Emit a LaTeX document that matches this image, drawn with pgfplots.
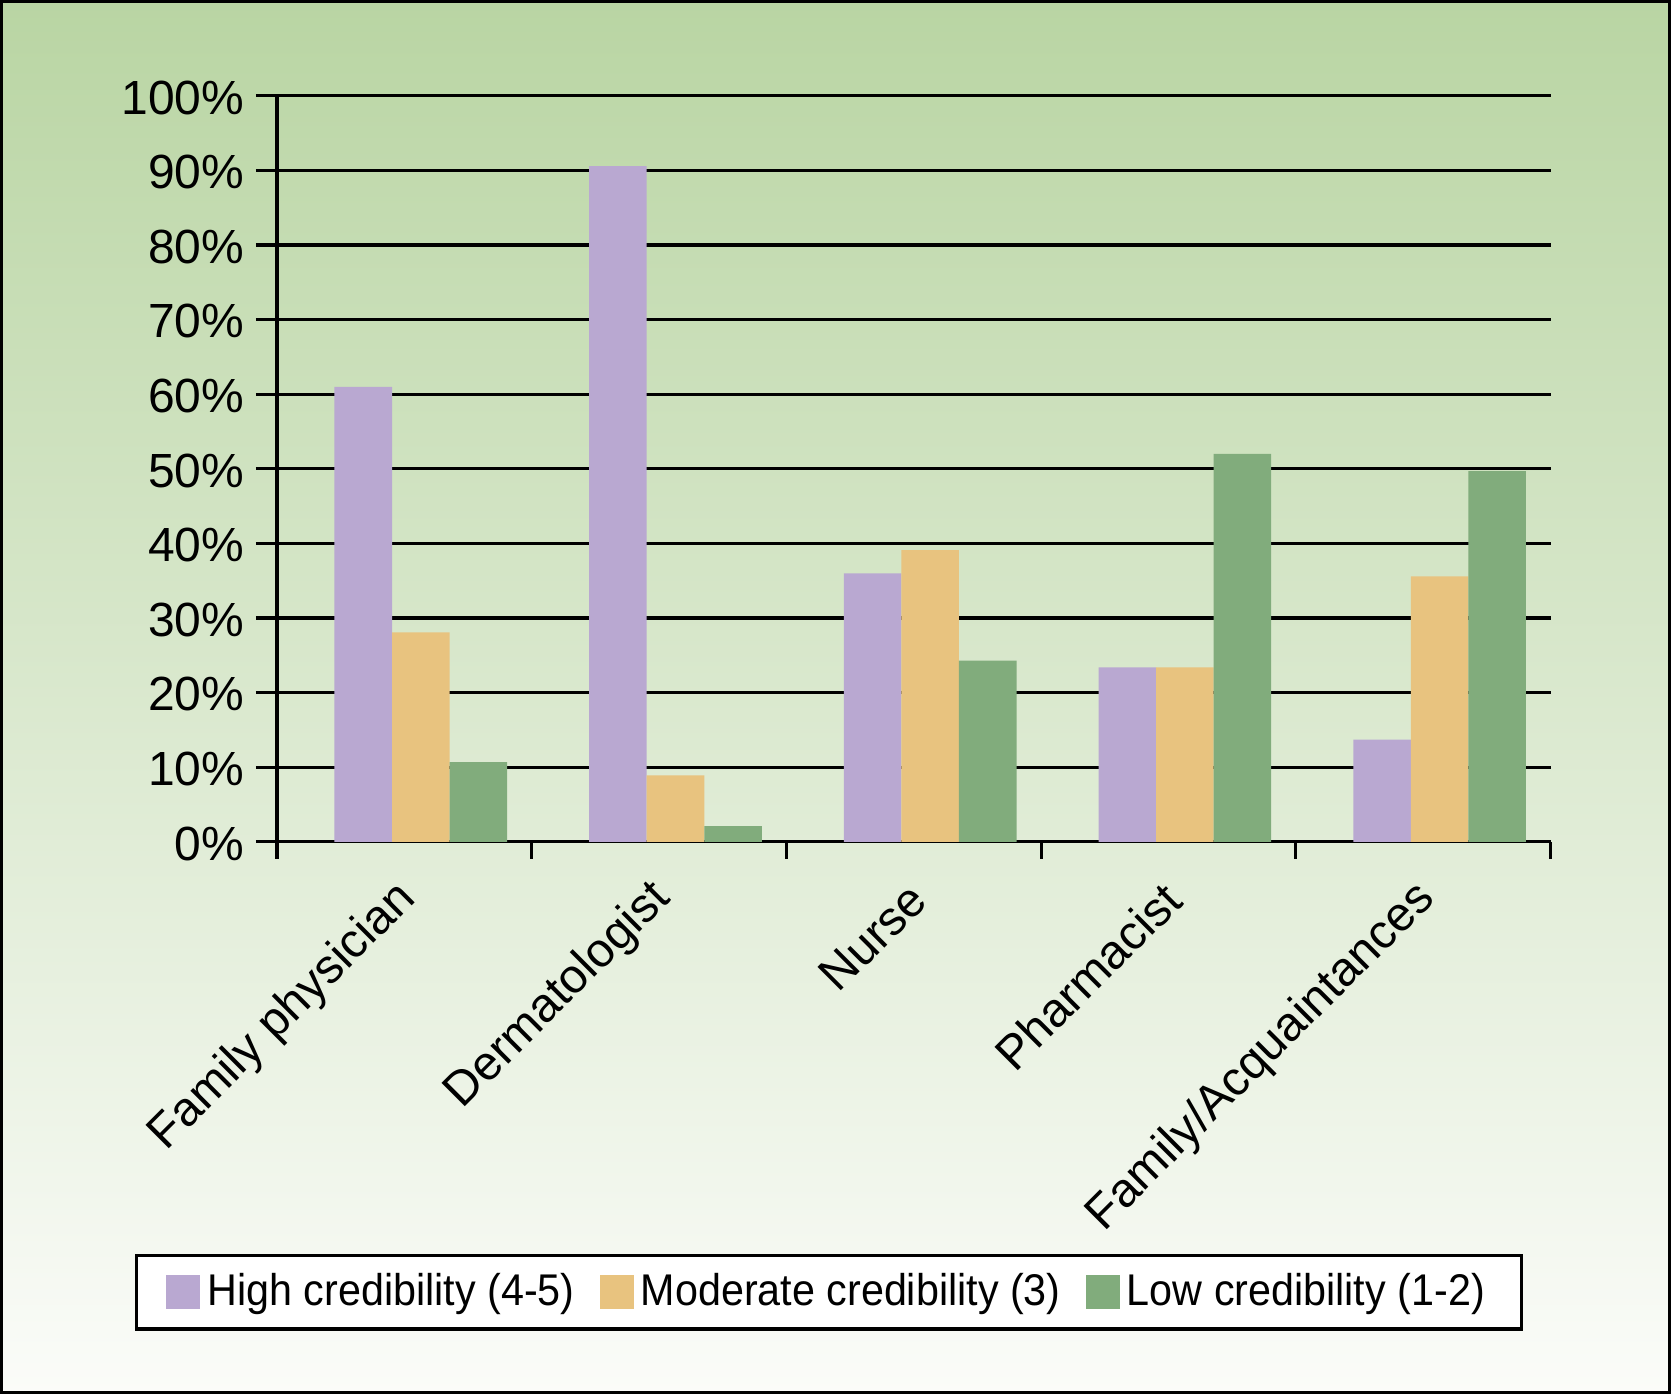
\documentclass[border=0pt]{standalone}
\usepackage{pgfplots}
\pgfplotsset{compat=1.18}
\usepackage{fontspec}
\setmainfont{Liberation Sans}
\newfontfamily\legendfont[FakeStretch=0.93]{Liberation Sans}
\definecolor{hi}{HTML}{B9A8D1}
\definecolor{mo}{HTML}{E8C37F}
\definecolor{lo}{HTML}{81AC7C}
\definecolor{bgtop}{HTML}{B9D5A3}
\definecolor{bgbot}{HTML}{FBFCF9}
\begin{document}
\begin{tikzpicture}
\shade[top color=bgtop, bottom color=bgbot] (0,0) rectangle (470.4pt,392.4pt);
\begin{axis}[
  at={(78pt,155.4pt)}, anchor=south west,
  scale only axis, width=358.5pt, height=210pt,
  ymin=0, ymax=100, xmin=-0.5, xmax=4.5,
  axis x line*=bottom, axis y line*=left,
  axis line style={black, line width=0.9pt},
  ybar=0pt, bar width=16.2pt,
  ytick={0,10,...,100},
  yticklabels={0\%,10\%,20\%,30\%,40\%,50\%,60\%,70\%,80\%,90\%,100\%},
  xtick={-0.5,0.5,...,4.5},
  x tick label as interval,
  xticklabels={Family physician,Dermatologist,Nurse,Pharmacist,Family/Acquaintances},
  tick align=outside,
  xtick style={black, line width=0.9pt, /pgfplots/major tick length=4.8pt},
  ytick style={black, line width=0.9pt, /pgfplots/major tick length=6pt},
  ymajorgrids, grid style={black, line width=0.9pt},
  tick label style={font=\fontsize{13.5}{16}\selectfont},
  yticklabel style={xshift=-1.5pt, yshift=-0.5pt},
  xticklabel style={rotate=45, anchor=east, inner sep=1pt, yshift=-7.7pt, xshift=-4.9pt},
  legend columns=3,
  legend style={at={(0.4335,-0.6036)}, anchor=center, draw=black, line width=0.9pt, fill=white,
    font=\legendfont\fontsize{12.5}{15}\selectfont, inner xsep=8.3pt, inner ysep=3.1pt,
    /tikz/every even column/.append style={column sep=5pt}},
  legend image code/.code={\fill[#1] (0pt,-4.8pt) rectangle (9.6pt,4.8pt);},
]
\addplot[fill=hi, draw=none, bar shift=-11.6pt] coordinates {(0,61.0) (1,90.6) (2,36.0) (3,23.4) (4,13.7)};
\addplot[fill=mo, draw=none, bar shift=4.6pt] coordinates {(0,28.1) (1,8.9) (2,39.1) (3,23.4) (4,35.6)};
\addplot[fill=lo, draw=none, bar shift=20.8pt] coordinates {(0,10.7) (1,2.1) (2,24.3) (3,52.0) (4,49.7)};
\legend{High credibility (4-5),Moderate credibility (3),Low credibility (1-2)}
\end{axis}
\draw[line width=0.9pt] (0.45pt,0.45pt) rectangle (469.95pt,391.95pt);
\end{tikzpicture}
\end{document}
